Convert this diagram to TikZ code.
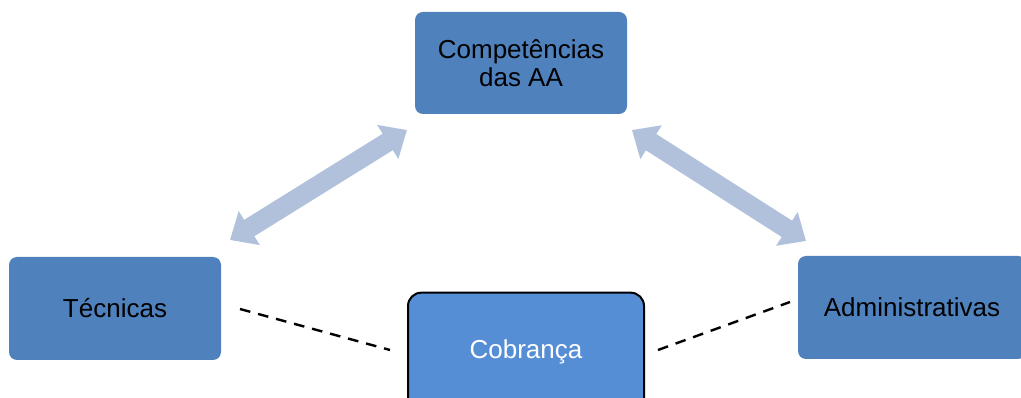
\documentclass[tikz,border=0pt]{standalone}
\usepackage{fontspec}
\setmainfont{Liberation Sans}
\usetikzlibrary{arrows.meta}
\definecolor{boxblue}{HTML}{4F81BD}
\definecolor{cobblue}{HTML}{558ED5}
\definecolor{arrowblue}{HTML}{B2C1DB}
\begin{document}
\begin{tikzpicture}[x=0.75pt,y=-0.75pt,
  bluebox/.style={rectangle,rounded corners=6pt,fill=boxblue,draw=none,align=center,
    font=\fontsize{19.5}{21}\selectfont,text=black,inner sep=0pt},
  cobbox/.style={rectangle,rounded corners=10pt,fill=cobblue,draw=black,line width=1.5pt,
    align=center,font=\fontsize{19.5}{21}\selectfont,text=white,inner sep=0pt},
  bigarrow/.style={draw=arrowblue,line width=14.5pt,
    {Triangle[width=29pt,length=17pt]}-{Triangle[width=29pt,length=17pt]}},
  dashline/.style={draw=black,line width=1.8pt,dash pattern=on 8pt off 6pt}]
\useasboundingbox (0,0) rectangle (1021,398);
\begin{scope}
\clip (0,0) rectangle (1021,398);
\node[bluebox,minimum width=159pt,minimum height=76.5pt] (comp) at (521,63) {Competências\\das AA};
\node[bluebox,minimum width=159pt,minimum height=77.25pt] (tec) at (115,308.5) {Técnicas};
\node[bluebox,minimum width=171pt,minimum height=77.25pt] (adm) at (912,307.5) {\raisebox{-3.5pt}{Administrativas}};
\node[cobbox,minimum width=177pt,minimum height=89pt] (cob) at (526,352) {Cobrança};
\coordinate (l1) at (230,240);
\coordinate (l2) at (407,130);
\coordinate (r1) at (632,130);
\coordinate (r2) at (806,241);
\draw[bigarrow] (l1) -- (l2);
\draw[bigarrow] (r1) -- (r2);
\coordinate (d1) at (240,309);
\coordinate (d2) at (390,350);
\coordinate (d3) at (658,350);
\coordinate (d4) at (790,302);
\draw[dashline] (d1) -- (d2);
\draw[dashline] (d3) -- (d4);
\end{scope}
\end{tikzpicture}
\end{document}
